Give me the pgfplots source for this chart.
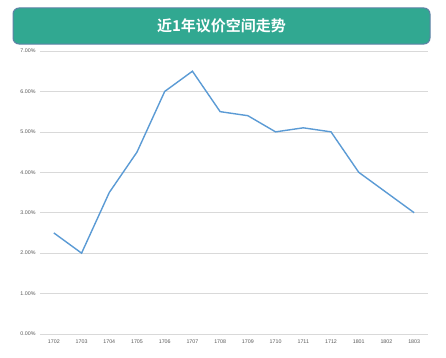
\documentclass[border=0pt]{standalone}
\usepackage{pgfplots}
\pgfplotsset{compat=1.18}
\usepackage{fontspec}
\setmainfont{Liberation Sans}
\newfontfamily\cjk{Noto Sans CJK SC}[BoldFont={Noto Sans CJK SC Bold}]
\definecolor{teal1}{HTML}{31A891}
\definecolor{bord}{HTML}{5E82A6}
\definecolor{line1}{HTML}{5B9BD5}
\definecolor{gridc}{HTML}{D9D9D9}
\definecolor{tickc}{HTML}{595959}
\begin{document}
\begin{tikzpicture}[x=1pt,y=1pt]
\path[fill=white] (0,0) rectangle (446,357);
\draw[bord, line width=1pt, fill=teal1, rounded corners=6pt] (13,313) rectangle (430,349);
\node[text=white, font=\cjk\bfseries\fontsize{15}{17}\selectfont] at (221.5,331) {近1年议价空间走势};
\begin{axis}[
  at={(40pt,23pt)}, anchor=south west,
  scale only axis, width=388pt, height=283pt,
  xmin=-0.5, xmax=13.5, ymin=0, ymax=7,
  xtick={0,...,13},
  xticklabels={1702,1703,1704,1705,1706,1707,1708,1709,1710,1711,1712,1801,1802,1803},
  ytick={0,1,2,3,4,5,6,7},
  yticklabels={0.00\%,1.00\%,2.00\%,3.00\%,4.00\%,5.00\%,6.00\%,7.00\%},
  ymajorgrids, grid style={gridc, line width=0.6pt},
  axis line style={draw=none},
  major tick length=0pt,
  tick label style={font=\fontsize{5.3}{6}\selectfont, text=tickc},
  yticklabel style={xshift=-1pt},
  xticklabel style={yshift=-2pt},
  clip=false,
]
\addplot[line1, line width=1.4pt] coordinates {
(0,2.5) (1,2.0) (2,3.5) (3,4.5) (4,6.0) (5,6.5) (6,5.5) (7,5.4) (8,5.0) (9,5.1) (10,5.0) (11,4.0) (12,3.5) (13,3.0)
};
\end{axis}
\end{tikzpicture}
\end{document}
